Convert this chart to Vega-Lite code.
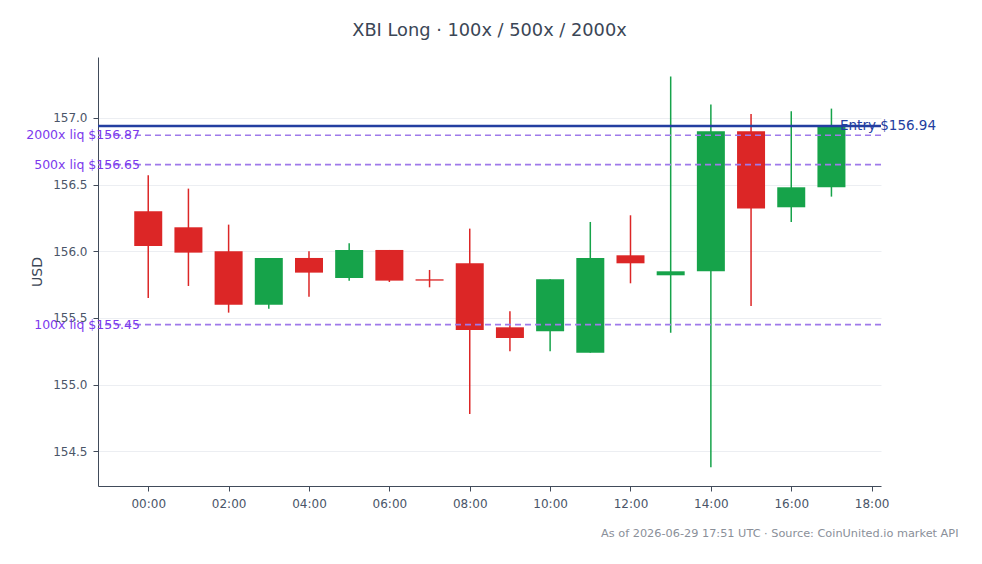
{
  "$schema": "https://vega.github.io/schema/vega-lite/v6.json",
  "width": 783,
  "height": 429,
  "autosize": {"type": "none"},
  "padding": {"left": 98, "top": 57, "right": 101, "bottom": 78},
  "background": "white",
  "title": {
    "text": "XBI Long · 100x / 500x / 2000x",
    "font": "DejaVu Sans",
    "fontSize": 17.8,
    "fontWeight": "normal",
    "color": "#3b4656",
    "anchor": "middle",
    "offset": 17
  },
  "config": {
    "view": {"stroke": null},
    "axis": {
      "labelFont": "DejaVu Sans",
      "titleFont": "DejaVu Sans",
      "labelFontSize": 12,
      "labelColor": "#4a5568",
      "domainColor": "#414b5a",
      "tickColor": "#414b5a",
      "tickSize": 5,
      "gridColor": "#eceef2",
      "titleFontWeight": "normal"
    }
  },
  "datasets": {
    "candles": [
      {"t": "2026-06-29T00:00:00", "open": 156.30, "high": 156.57, "low": 155.65, "close": 156.04},
      {"t": "2026-06-29T01:00:00", "open": 156.18, "high": 156.47, "low": 155.74, "close": 155.99},
      {"t": "2026-06-29T02:00:00", "open": 156.00, "high": 156.20, "low": 155.54, "close": 155.60},
      {"t": "2026-06-29T03:00:00", "open": 155.60, "high": 155.95, "low": 155.57, "close": 155.95},
      {"t": "2026-06-29T04:00:00", "open": 155.95, "high": 156.00, "low": 155.66, "close": 155.84},
      {"t": "2026-06-29T05:00:00", "open": 155.80, "high": 156.06, "low": 155.78, "close": 156.01},
      {"t": "2026-06-29T06:00:00", "open": 156.01, "high": 156.01, "low": 155.77, "close": 155.78},
      {"t": "2026-06-29T07:00:00", "open": 155.79, "high": 155.86, "low": 155.73, "close": 155.78},
      {"t": "2026-06-29T08:00:00", "open": 155.91, "high": 156.17, "low": 154.78, "close": 155.41},
      {"t": "2026-06-29T09:00:00", "open": 155.43, "high": 155.55, "low": 155.25, "close": 155.35},
      {"t": "2026-06-29T10:00:00", "open": 155.40, "high": 155.79, "low": 155.25, "close": 155.79},
      {"t": "2026-06-29T11:00:00", "open": 155.24, "high": 156.22, "low": 155.24, "close": 155.95},
      {"t": "2026-06-29T12:00:00", "open": 155.97, "high": 156.27, "low": 155.76, "close": 155.91},
      {"t": "2026-06-29T13:00:00", "open": 155.82, "high": 157.31, "low": 155.39, "close": 155.85},
      {"t": "2026-06-29T14:00:00", "open": 155.85, "high": 157.10, "low": 154.38, "close": 156.90},
      {"t": "2026-06-29T15:00:00", "open": 156.90, "high": 157.03, "low": 155.59, "close": 156.32},
      {"t": "2026-06-29T16:00:00", "open": 156.33, "high": 157.05, "low": 156.22, "close": 156.48},
      {"t": "2026-06-29T17:00:00", "open": 156.48, "high": 157.07, "low": 156.41, "close": 156.94}
    ],
    "liqs": [
      {"price": 156.87, "label": "2000x liq $156.87"},
      {"price": 156.65, "label": "500x liq $156.65"},
      {"price": 155.45, "label": "100x liq $155.45"}
    ],
    "entry": [
      {"price": 156.94, "label": "Entry $156.94"}
    ]
  },
  "layer": [
    {
      "data": {"name": "candles"},
      "mark": {"type": "rule", "strokeWidth": 1.5},
      "encoding": {
        "x": {
          "field": "t",
          "type": "temporal",
          "scale": {"padding": 0, "domain": [{"year": 2026, "month": 6, "date": 28, "hours": 22, "minutes": 45}, {"year": 2026, "month": 6, "date": 29, "hours": 18, "minutes": 14}]},
          "axis": {
            "format": "%H:%M",
            "values": [
              {"year": 2026, "month": 6, "date": 29, "hours": 0},
              {"year": 2026, "month": 6, "date": 29, "hours": 2},
              {"year": 2026, "month": 6, "date": 29, "hours": 4},
              {"year": 2026, "month": 6, "date": 29, "hours": 6},
              {"year": 2026, "month": 6, "date": 29, "hours": 8},
              {"year": 2026, "month": 6, "date": 29, "hours": 10},
              {"year": 2026, "month": 6, "date": 29, "hours": 12},
              {"year": 2026, "month": 6, "date": 29, "hours": 14},
              {"year": 2026, "month": 6, "date": 29, "hours": 16},
              {"year": 2026, "month": 6, "date": 29, "hours": 18}
            ],
            "grid": false,
            "labelPadding": 7,
            "title": "As of 2026-06-29 17:51 UTC · Source: CoinUnited.io market API",
            "titleFontSize": 11.3,
            "titleColor": "#8a8f99",
            "titleAlign": "right",
            "titleAnchor": "end",
            "titleBaseline": "middle",
            "titleX": 860,
            "titleY": 47
          }
        },
        "y": {
          "field": "low",
          "type": "quantitative",
          "scale": {"domain": [154.24, 157.457], "nice": false, "zero": false},
          "axis": {
            "values": [154.5, 155.0, 155.5, 156.0, 156.5, 157.0],
            "format": ".1f",
            "grid": true,
            "labelPadding": 6,
            "title": "USD",
            "titleFontSize": 14,
            "titleColor": "#3b4656",
            "titleX": -61,
            "titleY": 214.5,
            "titleBaseline": "middle",
            "titleAlign": "center"
          }
        },
        "y2": {"field": "high"},
        "color": {
          "condition": {"test": "datum.close >= datum.open", "value": "#16a34a"},
          "value": "#dc2626"
        }
      }
    },
    {
      "data": {"name": "candles"},
      "mark": {"type": "bar", "size": 28},
      "encoding": {
        "x": {"field": "t", "type": "temporal"},
        "y": {"field": "open", "type": "quantitative"},
        "y2": {"field": "close"},
        "color": {
          "condition": {"test": "datum.close >= datum.open", "value": "#16a34a"},
          "value": "#dc2626"
        }
      }
    },
    {
      "data": {"name": "liqs"},
      "mark": {"type": "rule", "strokeDash": [6, 4], "strokeWidth": 1.6, "color": "#9f7aea"},
      "encoding": {
        "y": {"field": "price", "type": "quantitative"}
      }
    },
    {
      "data": {"name": "entry"},
      "mark": {"type": "rule", "strokeWidth": 2.5, "color": "#233ea0"},
      "encoding": {
        "y": {"field": "price", "type": "quantitative"}
      }
    },
    {
      "data": {"name": "liqs"},
      "mark": {"type": "text", "align": "right", "baseline": "middle", "dx": -349.5, "fontSize": 12.5, "color": "#7c3aed", "font": "DejaVu Sans"},
      "encoding": {
        "y": {"field": "price", "type": "quantitative"},
        "text": {"field": "label"}
      }
    },
    {
      "data": {"name": "entry"},
      "mark": {"type": "text", "align": "left", "baseline": "middle", "dx": 350.5, "fontSize": 13.5, "color": "#233ea0", "font": "DejaVu Sans"},
      "encoding": {
        "y": {"field": "price", "type": "quantitative"},
        "text": {"field": "label"}
      }
    }
  ]
}
